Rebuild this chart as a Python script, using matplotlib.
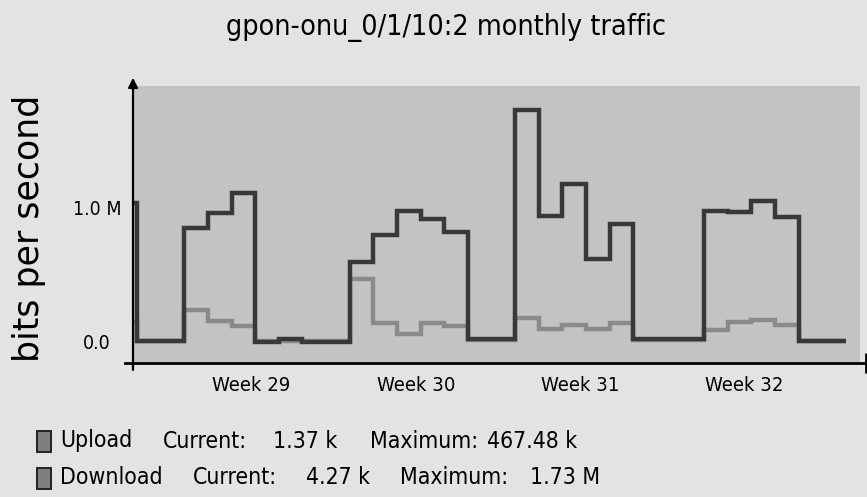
import numpy as np
import matplotlib
matplotlib.use("Agg")
import matplotlib.pyplot as plt
from matplotlib.patches import Rectangle

# daily averages in Mbit/s, first value is the partially visible day before the window
download = [1.04, 0.01, 0.01, 0.85, 0.96, 1.11, 0.00, 0.02, 0.00, 0.00,
            0.60, 0.80, 0.98, 0.92, 0.82, 0.025, 0.02, 1.73, 0.94, 1.18,
            0.62, 0.88, 0.02, 0.02, 0.02, 0.98, 0.97, 1.05, 0.93, 0.01, 0.01]
upload = [0.15, 0.005, 0.005, 0.235, 0.16, 0.12, 0.005, 0.005, 0.005, 0.005,
          0.467, 0.14, 0.06, 0.14, 0.12, 0.015, 0.015, 0.18, 0.10, 0.13,
          0.10, 0.14, 0.015, 0.015, 0.015, 0.09, 0.15, 0.165, 0.13, 0.01, 0.01]
first_day = -1

week_pos = [4.85, 11.8, 18.75, 25.7]
week_labels = ["Week 29", "Week 30", "Week 31", "Week 32"]
ytick_vals = [0.0, 1.0]
ytick_labels = ["0.0", "1.0 M"]

legend_names = ["Upload", "Download"]
legend_current = ["1.37 k", "4.27 k"]
legend_max = ["467.48 k", "1.73 M"]

title = "gpon-onu_0/1/10:2 monthly traffic"

COND = dict(family="DejaVu Sans", fontstretch="condensed")
fig_bg = "#e3e3e3"
plot_bg = "#c3c3c3"
dl_color = "#383838"
ul_color = "#8a8a8a"

fig = plt.figure(figsize=(8.67, 4.97), dpi=100, facecolor=fig_bg)
ax = fig.add_axes([0.1534, 0.2696, 0.8385, 0.5573])
ax.set_facecolor(plot_bg)

edges = np.arange(first_day, first_day + len(download) + 1)
ax.stairs(upload, edges, baseline=None, color=ul_color, lw=3.2)
ax.stairs(download, edges, baseline=None, color=dl_color, lw=3.2)

ax.set_xlim(-0.17, 30.6)
ax.set_ylim(-0.157, 1.91)

for s in ax.spines.values():
    s.set_visible(False)

ax.set_xticks(week_pos)
ax.set_xticklabels(week_labels, fontsize=14.5, **COND)
ax.set_yticks(ytick_vals)
ax.set_yticklabels(ytick_labels, fontsize=14, **COND)
ax.tick_params(axis="both", length=0)
ax.tick_params(axis="x", pad=9)
ax.tick_params(axis="y", pad=26)
for lbl in ax.get_yticklabels():
    lbl.set_horizontalalignment("center")

# axis lines: arrow up the y axis, bar at the end of the x axis
ax.annotate("", xy=(0, 1.04), xytext=(0, -0.035), xycoords="axes fraction",
            arrowprops=dict(arrowstyle="-|>", color="black", lw=1.6,
                            mutation_scale=14))
ax.plot([-0.011, 1.008], [0, 0], transform=ax.transAxes, color="black",
        lw=2, clip_on=False)
ax.plot([1.008], [0], transform=ax.transAxes, color="black", marker="|",
        ms=14, mew=2, clip_on=False)

fig.text(0.5144, 0.9437, title, ha="center", va="center", fontsize=20.5, **COND)
fig.text(0.0334, 0.5412, "bits per second", rotation=90, ha="center",
         va="center", fontsize=25)

# legend rows: (row y px, "Current:" x, current value right x, "Maximum:" x, max right x)
row_layout = [(441, 163, 337, 370, 577), (478, 193, 370, 400, 600)]
W, H = 867, 497
for name, cur, mx, (ypx, cx, cr, mxx, mr) in zip(legend_names, legend_current,
                                                  legend_max, row_layout):
    y = 1 - ypx / H
    fig.patches.append(Rectangle((37 / W, y - 10.5 / H), 14 / W, 21 / H,
                                 transform=fig.transFigure, facecolor="#7e7e7e",
                                 edgecolor="#222222", lw=1.4))
    fig.text(60 / W, y, name, ha="left", va="center", fontsize=16.5, **COND)
    fig.text(cx / W, y, "Current:", ha="left", va="center", fontsize=16.5, **COND)
    fig.text(cr / W, y, cur, ha="right", va="center", fontsize=16.5, **COND)
    fig.text(mxx / W, y, "Maximum:", ha="left", va="center", fontsize=16.5, **COND)
    fig.text(mr / W, y, mx, ha="right", va="center", fontsize=16.5, **COND)

fig.savefig("out.png", dpi=100, facecolor=fig_bg)
